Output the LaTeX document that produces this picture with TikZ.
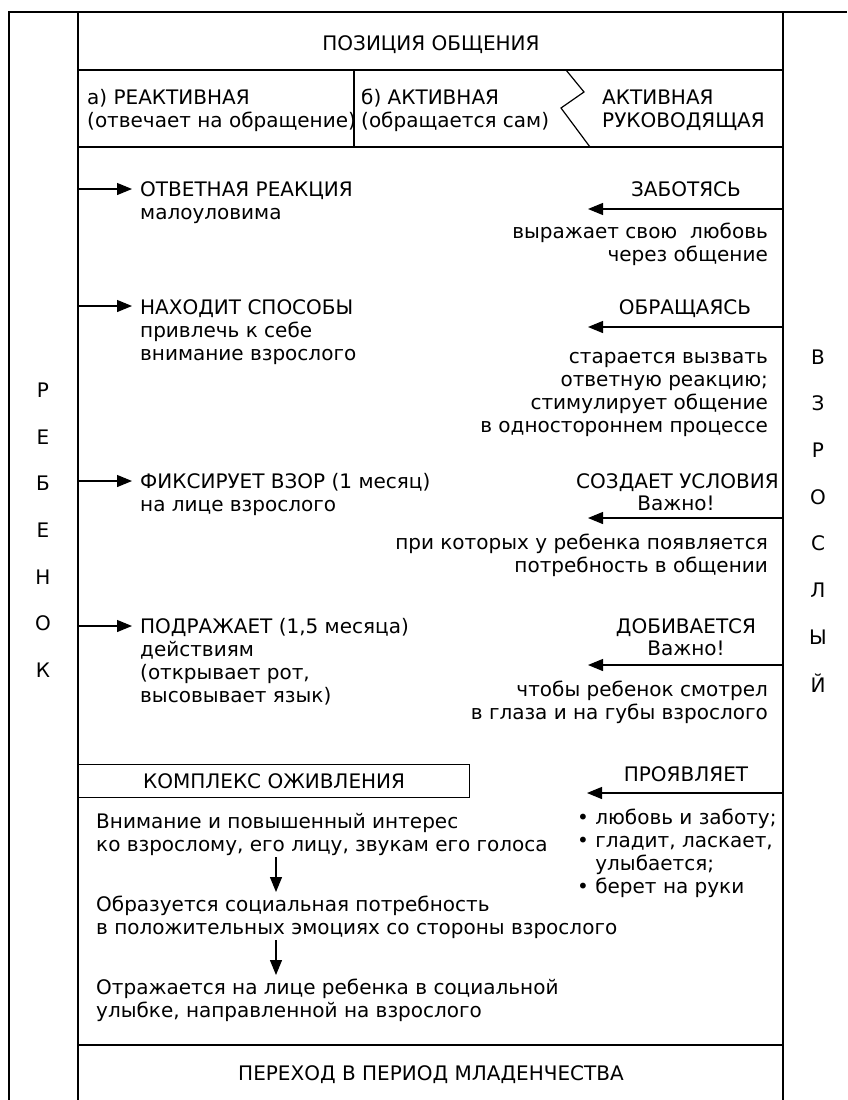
\documentclass[tikz,border=0pt]{standalone}
\usepackage{fontspec}
\setmainfont{DejaVu Sans}
\usetikzlibrary{arrows.meta}
\newcommand{\fsz}{\fontsize{20}{23.3}\selectfont}
\begin{document}
\begin{tikzpicture}[x=1pt,y=-1pt,
  ln/.style={line width=1.2pt},
  arr/.style={line width=1.2pt,-{Triangle[length=15pt,width=12pt]}},
  txt/.style={inner sep=0pt,font=\fsz},
  lt/.style={txt,anchor=base west,align=left},
  rt/.style={txt,anchor=base east,align=right},
  ct/.style={txt,anchor=base,align=center},
  let/.style={txt,anchor=center}]
\useasboundingbox (0,0) rectangle (847,1100);
% frame
\draw[ln] (9,1100) -- (9,12) -- (847,12);
\draw[ln] (78,12) -- (78,1100);
\draw[ln] (783,12) -- (783,1100);
\draw[ln] (78,70) -- (783,70);
\draw[ln] (78,147) -- (783,147);
\draw[ln] (354,70) -- (354,147);
\draw[ln] (566,70) -- (584,92) -- (561,108) -- (590,147);
\draw[ln] (78,1045) -- (783,1045);
% header (base anchor = baseline of last line)
\node[ct] (pos) at (431,50.5) {ПОЗИЦИЯ ОБЩЕНИЯ};
\node[lt] (ha) at (87,127.8) {а) РЕАКТИВНАЯ\\(отвечает на обращение)};
\node[lt] (hb) at (361,127.8) {б) АКТИВНАЯ\\(обращается сам)};
\node[lt] (hc) at (602,127.8) {АКТИВНАЯ\\РУКОВОДЯЩАЯ};
% left column letters
\node[let] (k1) at (43,390) {Р};
\node[let] (k2) at (43,437) {Е};
\node[let] (k3) at (43,483) {Б};
\node[let] (k4) at (43,530) {Е};
\node[let] (k5) at (43,577) {Н};
\node[let] (k6) at (43,623) {О};
\node[let] (k7) at (43,670) {К};
% right column letters
\node[let] (v1) at (818,357) {В};
\node[let] (v2) at (818,403) {З};
\node[let] (v3) at (818,450) {Р};
\node[let] (v4) at (818,497) {О};
\node[let] (v5) at (818,543) {С};
\node[let] (v6) at (818,590) {Л};
\node[let] (v7) at (818,637) {Ы};
\node[let] (v8) at (818,683) {Й};
% child items
\node[lt] (c1) at (140,219.3) {ОТВЕТНАЯ РЕАКЦИЯ\\малоуловима};
\node[lt] (c2) at (140,360.6) {НАХОДИТ СПОСОБЫ\\привлечь к себе\\внимание взрослого};
\node[lt] (c3) at (140,511.3) {ФИКСИРУЕТ ВЗОР (1 месяц)\\на лице взрослого};
\node[lt] (c4) at (140,702.9) {ПОДРАЖАЕТ (1,5 месяца)\\действиям\\(открывает рот,\\высовывает язык)};
\coordinate (c1s) at (78,189); \coordinate (c1e) at (132,189);
\coordinate (c2s) at (78,306); \coordinate (c2e) at (132,306);
\coordinate (c3s) at (78,481); \coordinate (c3e) at (132,481);
\coordinate (c4s) at (78,626); \coordinate (c4e) at (132,626);
\draw[arr] (c1s) -- (c1e);
\draw[arr] (c2s) -- (c2e);
\draw[arr] (c3s) -- (c3e);
\draw[arr] (c4s) -- (c4e);
% adult items
\node[ct] (a1h) at (686,196) {ЗАБОТЯСЬ};
\node[rt] (a1t) at (768,261.3) {выражает свою\ \ любовь\\через общение};
\node[ct] (a2h) at (685,314) {ОБРАЩАЯСЬ};
\node[rt] (a2t) at (768,432.9) {старается вызвать\\ответную реакцию;\\стимулирует общение\\в одностороннем процессе};
\node[rt] (a3h) at (779,488) {СОЗДАЕТ УСЛОВИЯ};
\node[ct] (a3v) at (676,510) {Важно!};
\node[rt] (a3t) at (768,572.3) {при которых у ребенка появляется\\потребность в общении};
\node[ct] (a4h) at (686,633) {ДОБИВАЕТСЯ};
\node[ct] (a4v) at (686,655) {Важно!};
\node[rt] (a4t) at (768,719.3) {чтобы ребенок смотрел\\в глаза и на губы взрослого};
\node[ct] (a5h) at (686,781) {ПРОЯВЛЯЕТ};
\node[lt] (a5t) at (577,893.9) {•\ любовь и заботу;\\•\ гладит, ласкает,\\\phantom{•\ }улыбается;\\•\ берет на руки};
\coordinate (a1s) at (783,209); \coordinate (a1e) at (588,209);
\coordinate (a2s) at (783,327); \coordinate (a2e) at (588,327);
\coordinate (a3s) at (783,518); \coordinate (a3e) at (588,518);
\coordinate (a4s) at (783,665); \coordinate (a4e) at (588,665);
\coordinate (a5s) at (783,793); \coordinate (a5e) at (587,793);
\draw[arr] (a1s) -- (a1e);
\draw[arr] (a2s) -- (a2e);
\draw[arr] (a3s) -- (a3e);
\draw[arr] (a4s) -- (a4e);
\draw[arr] (a5s) -- (a5e);
% revival complex
\node[txt,draw,line width=1.2pt,minimum width=391pt,minimum height=33pt,anchor=north west] (kompl) at (78,764) {КОМПЛЕКС ОЖИВЛЕНИЯ};
\node[lt] (s1) at (96,851.3) {Внимание и повышенный интерес\\ко взрослому, его лицу, звукам его голоса};
\node[lt] (s2) at (96,934.3) {Образуется социальная потребность\\в положительных эмоциях со стороны взрослого};
\node[lt] (s3) at (96,1017.3) {Отражается на лице ребенка в социальной\\улыбке, направленной на взрослого};
\coordinate (d1s) at (276,857); \coordinate (d1e) at (276,892);
\coordinate (d2s) at (276,940); \coordinate (d2e) at (276,975);
\draw[arr] (d1s) -- (d1e);
\draw[arr] (d2s) -- (d2e);
% footer
\node[ct] (foot) at (431,1080) {ПЕРЕХОД В ПЕРИОД МЛАДЕНЧЕСТВА};
\end{tikzpicture}
\end{document}
